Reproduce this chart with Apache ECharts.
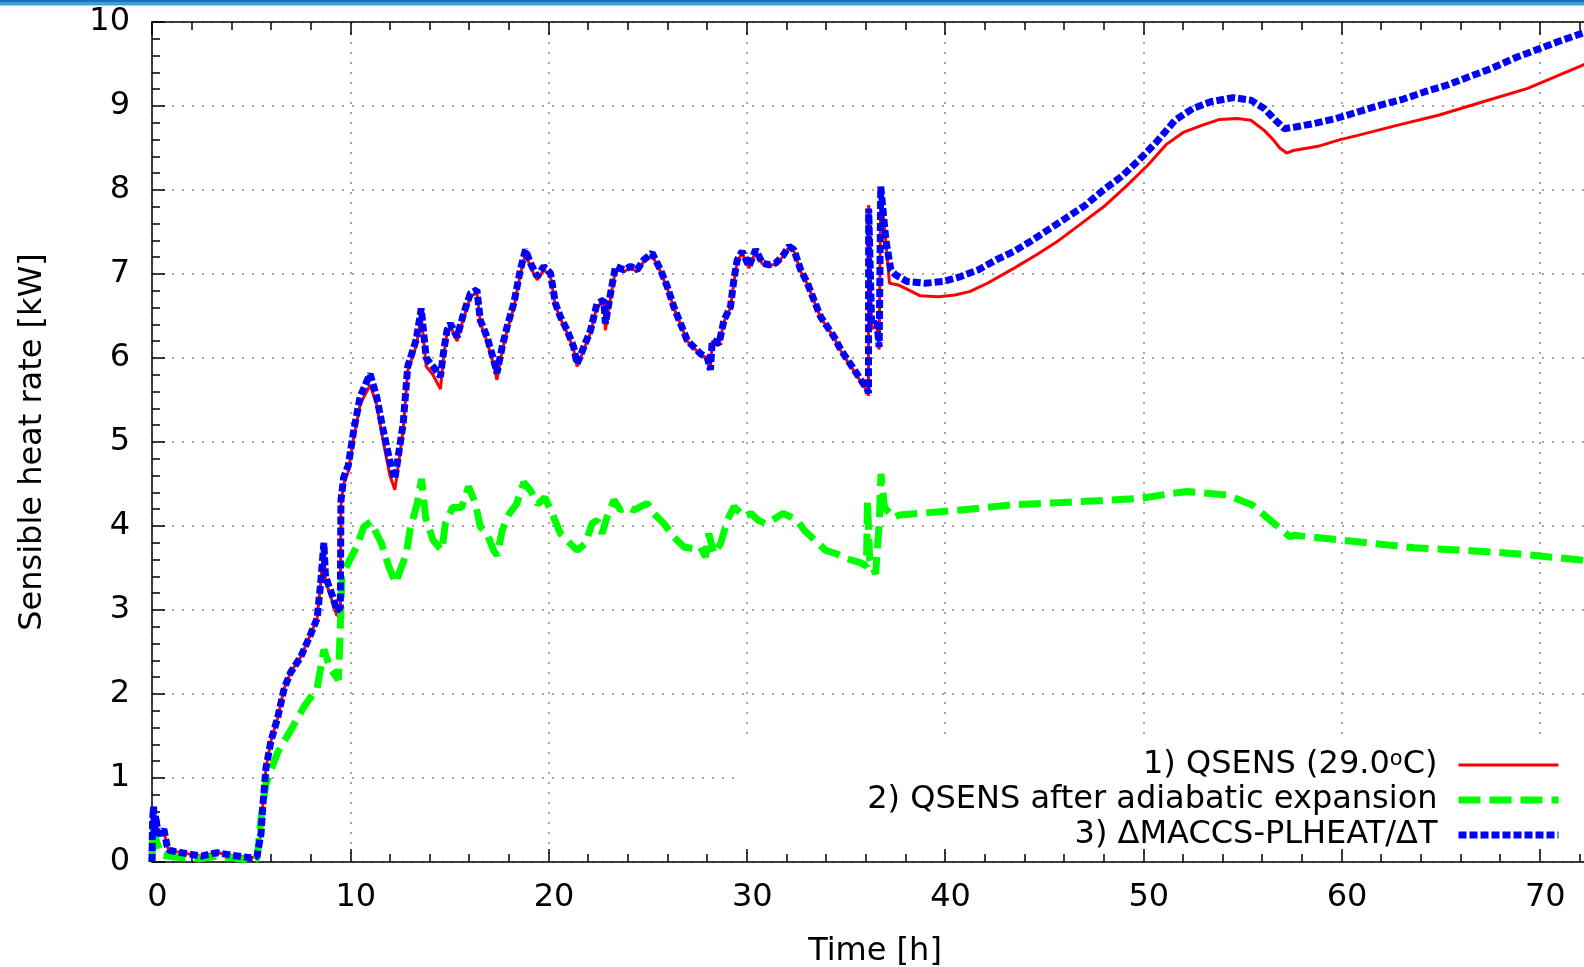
<!DOCTYPE html>
<html>
<head>
<meta charset="utf-8">
<script src="https://cdn.jsdelivr.net/npm/echarts@6/dist/echarts.min.js"></script>
<style>
  html, body { margin: 0; padding: 0; background: #fff; }
  #main { width: 1584px; height: 967px; }
</style>
</head>
<body>
<div id="main"></div>
<script>
// time [h], shared by curves 1 and 3 up to the spike near 37 h
var earlyT = [0, 0.03, 0.08, 0.12, 0.18, 0.3, 0.45, 0.6, 0.75, 0.85,
  1.5, 2.5, 3.0, 3.3, 4.0, 5.0, 5.3, 5.5, 5.6, 5.75,
  6.0, 6.33, 6.67, 7.0, 7.5, 8.0, 8.33, 8.5, 8.67, 8.75,
  9.1, 9.33, 9.5, 9.53, 9.67, 9.9, 10.17, 10.5, 10.83, 11.0,
  11.33, 11.67, 12.0, 12.25, 12.67, 12.9, 13.33, 13.58, 13.83, 14.17,
  14.55, 14.7, 14.88, 15.05, 15.39, 15.72, 16.06, 16.39, 16.56, 16.9,
  17.23, 17.4, 17.66, 17.91, 18.25, 18.58, 18.84, 19.09, 19.43, 19.76,
  20.1, 20.35, 20.6, 20.94, 21.27, 21.44, 21.78, 22.12, 22.45, 22.79,
  22.87, 23.13, 23.38, 23.8, 24.14, 24.47, 24.81, 25.23, 25.65, 25.99,
  26.32, 26.66, 27.0, 27.33, 27.67, 28.0, 28.17, 28.26, 28.6, 28.85,
  29.18, 29.35, 29.52, 29.77, 30.11, 30.45, 30.79, 31.12, 31.46, 31.8,
  32.13, 32.38, 32.72, 33.06, 33.39, 33.73, 34.07, 34.41, 34.74, 35.08,
  35.42, 35.75, 36.09, 36.14, 36.15, 36.3, 36.57, 36.68, 36.76, 37.02];

// 3) dMACCS-PLHEAT/dT  [kW]
var earlyBlue = [0, 0.5, 0.66, 0.3, 0.55, 0.35, 0.33, 0.39, 0.2, 0.14,
  0.11, 0.07, 0.1, 0.11, 0.08, 0.05, 0.07, 0.34, 0.7, 1.12,
  1.44, 1.71, 2.07, 2.26, 2.44, 2.71, 2.9, 3.3, 3.8, 3.4,
  3.17, 2.99, 3.03, 4.3, 4.58, 4.72, 5.13, 5.54, 5.72, 5.81,
  5.54, 5.13, 4.77, 4.56, 5.22, 5.9, 6.22, 6.59, 6.0, 5.9,
  5.78, 6.06, 6.33, 6.41, 6.25, 6.53, 6.77, 6.81, 6.45, 6.25,
  5.98, 5.82, 6.13, 6.37, 6.65, 7.05, 7.29, 7.13, 6.97, 7.09,
  7.01, 6.65, 6.49, 6.33, 6.13, 5.93, 6.13, 6.33, 6.65, 6.69,
  6.41, 6.77, 7.09, 7.05, 7.09, 7.05, 7.17, 7.25, 7.05, 6.85,
  6.61, 6.41, 6.21, 6.13, 6.05, 6.01, 5.86, 6.21, 6.17, 6.45,
  6.61, 6.93, 7.17, 7.27, 7.09, 7.29, 7.13, 7.11, 7.13, 7.21,
  7.33, 7.29, 7.05, 6.89, 6.69, 6.49, 6.37, 6.25, 6.10, 5.98,
  5.86, 5.74, 5.62, 5.58, 7.78, 6.4, 6.41, 6.13, 8.04, 7.40];

// 1) QSENS [kW]
var earlyRed = [0, 0.48, 0.62, 0.3, 0.5, 0.35, 0.33, 0.37, 0.2, 0.14,
  0.11, 0.07, 0.1, 0.11, 0.08, 0.05, 0.07, 0.34, 0.7, 1.12,
  1.44, 1.71, 2.07, 2.26, 2.44, 2.71, 2.9, 3.3, 3.75, 3.35,
  3.1, 2.93, 3.0, 4.25, 4.5, 4.65, 5.05, 5.45, 5.6, 5.68,
  5.45, 5.0, 4.6, 4.43, 5.15, 5.85, 6.15, 6.5, 5.9, 5.8,
  5.63, 6.0, 6.3, 6.38, 6.2, 6.48, 6.73, 6.78, 6.42, 6.2,
  5.92, 5.74, 6.08, 6.33, 6.6, 7.0, 7.25, 7.08, 6.93, 7.05,
  6.98, 6.62, 6.47, 6.3, 6.1, 5.9, 6.1, 6.3, 6.62, 6.66,
  6.33, 6.72, 7.05, 7.03, 7.07, 7.03, 7.15, 7.22, 7.03, 6.83,
  6.6, 6.4, 6.2, 6.12, 6.04, 6.0, 5.88, 6.2, 6.15, 6.43,
  6.6, 6.9, 7.15, 7.25, 7.07, 7.27, 7.12, 7.1, 7.12, 7.2,
  7.32, 7.27, 7.03, 6.88, 6.68, 6.48, 6.36, 6.24, 6.09, 5.96,
  5.84, 5.72, 5.6, 5.55, 7.82, 6.35, 6.38, 6.1, 8.0, 7.38];

var lateBlueT = [37.27, 37.5, 38.09, 38.99, 39.89, 40.79, 41.69, 42.59, 43.49, 44.39,
  45.29, 46.19, 47.09, 47.99, 48.9, 49.8, 50.7, 51.6, 52.5, 53.4,
  54.53, 55.43, 56.1, 56.67, 57.12, 57.68, 58.58, 59.71, 60.83, 61.96,
  63.09, 64.21, 65.34, 66.46, 67.59, 68.72, 69.84, 70.97, 72.3];
var lateBlue = [7.05, 6.99, 6.91, 6.89, 6.91, 6.97, 7.05, 7.17, 7.27, 7.40,
  7.54, 7.68, 7.82, 8.0, 8.16, 8.36, 8.58, 8.83, 8.97, 9.05,
  9.10, 9.07, 8.97, 8.83, 8.73, 8.75, 8.79, 8.85, 8.93, 9.01,
  9.08, 9.17, 9.25, 9.35, 9.45, 9.57, 9.67, 9.77, 9.88];

var lateRedT = [37.2, 37.64, 38.76, 39.66, 40.5, 41.24, 42.14, 43.49, 44.62, 45.74,
  46.87, 48.0, 49.12, 50.25, 51.15, 52.05, 52.95, 53.85, 54.75, 55.43,
  56.1, 56.55, 56.89, 57.23, 57.57, 58.81, 59.93, 60.83, 62.64, 64.89,
  67.14, 69.39, 72.3];
var lateRed = [6.89, 6.87, 6.74, 6.73, 6.75, 6.79, 6.89, 7.07, 7.23, 7.40,
  7.60, 7.80, 8.04, 8.30, 8.54, 8.69, 8.77, 8.84, 8.85, 8.83,
  8.71, 8.6, 8.5, 8.44, 8.47, 8.52, 8.6, 8.65, 8.76, 8.89,
  9.05, 9.21, 9.5];

// 2) QSENS after adiabatic expansion
var greenT = [0, 0.05, 0.15, 0.3, 0.5, 1.5, 2.5, 3.3, 4.0, 5.0,
  5.3, 5.5, 5.75, 6.33, 7.0, 7.67, 8.33, 8.67, 9.0, 9.4,
  9.5, 9.58, 9.96, 10.32, 10.68, 11.04, 11.58, 11.94, 12.29, 12.47,
  12.83, 13.01, 13.37, 13.6, 13.8, 14.18, 14.62, 14.8, 15.16, 15.61,
  15.97, 16.31, 16.56, 16.9, 17.23, 17.4, 17.67, 18.03, 18.39, 18.75,
  19.1, 19.46, 19.82, 20.18, 20.6, 21.1, 21.44, 21.86, 22.2, 22.45,
  22.7, 22.96, 23.3, 23.63, 23.97, 24.3, 24.64, 24.98, 25.31, 25.82,
  26.32, 26.83, 27.33, 27.67, 27.92, 28.09, 28.34, 28.68, 29.02, 29.36,
  29.86, 30.22, 30.57, 30.93, 31.29, 31.83, 32.19, 32.54, 32.9, 33.44,
  33.98, 34.52, 35.05, 35.77, 36.04, 36.09, 36.2, 36.5, 36.68, 36.77,
  36.95, 37.4, 37.7, 40.8, 43.3, 45.9, 48.4, 49.9, 51.5, 52.2,
  54.2, 55.5, 57.0, 57.4, 57.6, 60.1, 63.7, 66.3, 68.8, 72.3];
var greenV = [0, 0.39, 0.3, 0.2, 0.08, 0.05, 0.04, 0.07, 0.05, 0.02,
  0.04, 0.52, 0.93, 1.3, 1.57, 1.85, 2.07, 2.53, 2.3, 2.17,
  2.8, 3.4, 3.59, 3.75, 3.99, 4.05, 3.79, 3.52, 3.32, 3.44,
  3.67, 3.95, 4.26, 4.56, 4.1, 3.83, 3.71, 4.03, 4.22, 4.22,
  4.47, 4.27, 3.99, 3.91, 3.71, 3.65, 3.95, 4.15, 4.26, 4.52,
  4.42, 4.26, 4.34, 4.15, 3.91, 3.79, 3.71, 3.79, 4.03, 4.07,
  3.91, 4.11, 4.31, 4.19, 4.23, 4.19, 4.23, 4.27, 4.15, 4.03,
  3.87, 3.75, 3.73, 3.75, 3.63, 3.91, 3.67, 3.79, 4.07, 4.23,
  4.11, 4.15, 4.07, 4.03, 4.07, 4.15, 4.11, 4.07, 3.95, 3.83,
  3.71, 3.67, 3.61, 3.56, 3.52, 4.3, 3.6, 3.43, 4.03, 4.62,
  4.22, 4.1, 4.13, 4.19, 4.25, 4.28, 4.31, 4.33, 4.39, 4.41,
  4.37, 4.25, 3.95, 3.87, 3.89, 3.83, 3.74, 3.71, 3.67, 3.59];

var names = ['1) QSENS (29.0oC)', '2) QSENS after adiabatic expansion', '3) \u0394MACCS-PLHEAT/\u0394T'];

function pairs(t, v) {
  return t.map(function (x, i) { return [x, v[i]]; });
}

var redData = pairs(earlyT, earlyRed).concat(pairs(lateRedT, lateRed));
var blueData = pairs(earlyT, earlyBlue).concat(pairs(lateBlueT, lateBlue));
var greenData = pairs(greenT, greenV);

var FONT = 'DejaVu Sans';
var FS = 32;
var txt = { fontSize: FS, color: '#000', fontFamily: FONT };
var gridLine = { show: true, lineStyle: { color: '#888', width: 1.5, type: [2, 8] } };
var blackLine = { color: '#000', width: 1.5 };

var redStyle = { color: '#ff0000', width: 3 };
var greenStyle = { color: '#00ff00', width: 7, type: [22, 9] };
var blueStyle = { color: '#0000ff', width: 7, type: [8, 3] };

var myChart = echarts.init(document.getElementById('main'));

var option = {
  animation: false,
  backgroundColor: '#fff',
  // the plot runs on past the right edge of the picture (x up to 80 h)
  grid: { left: 152, top: 22, width: 1586, bottom: 105, containLabel: false, outerBoundsMode: 'none' },
  graphic: [
    // white key box hides the grid behind the legend
    { type: 'rect', z: 1, shape: { x: 734, y: 737, width: 860, height: 112 }, style: { fill: '#fff' } },
    // window title bar strip at the very top
    { type: 'rect', z: 10, shape: { x: 0, y: 0, width: 1584, height: 2 }, style: { fill: '#1f6fb5' } },
    { type: 'rect', z: 10, shape: { x: 0, y: 2, width: 1584, height: 3 }, style: { fill: '#3a9ee4' } },
    { type: 'rect', z: 10, shape: { x: 0, y: 5, width: 1584, height: 1 }, style: { fill: '#a8d4f3' } }
  ],
  legend: {
    orient: 'vertical',
    right: 17,
    top: 744,
    align: 'right',
    selectedMode: false,
    itemWidth: 100,
    itemHeight: 14,
    itemGap: 3,
    itemStyle: { opacity: 0 },
    formatter: function (name) {
      return name.replace('0oC', '0{sup|o}C');
    },
    textStyle: {
      fontSize: FS, color: '#000', fontFamily: FONT, padding: [0, 16, 0, 0],
      rich: {
        sup: { fontSize: 21, fontFamily: FONT, color: '#000', verticalAlign: 'top', padding: [0, 0, 10, 0] }
      }
    },
    data: [
      { name: names[0], lineStyle: redStyle },
      { name: names[1], lineStyle: greenStyle },
      { name: names[2], lineStyle: blueStyle }
    ]
  },
  xAxis: [{
    type: 'value', min: 0, max: 80, interval: 10, position: 'bottom',
    name: 'Time [h]', nameLocation: 'middle', nameGap: 74,
    nameTextStyle: { fontSize: FS, color: '#000', fontFamily: FONT, padding: [0, 140, 0, 0] },
    axisLine: { show: true, onZero: false, lineStyle: blackLine },
    axisTick: { show: true, inside: true, length: 13, lineStyle: blackLine },
    minorTick: { show: true, splitNumber: 5, length: 8, lineStyle: blackLine },
    axisLabel: Object.assign({ margin: 20, padding: [0, 0, 0, 11] }, txt),
    splitLine: gridLine
  }, {
    type: 'value', min: 0, max: 80, interval: 10, position: 'top',
    axisLine: { show: true, onZero: false, lineStyle: blackLine },
    axisTick: { show: true, inside: true, length: 13, lineStyle: blackLine },
    minorTick: { show: true, splitNumber: 5, length: 8, lineStyle: blackLine },
    axisLabel: { show: false },
    splitLine: { show: false }
  }],
  yAxis: {
    type: 'value', min: 0, max: 10, interval: 1,
    name: 'Sensible heat rate [kW]', nameLocation: 'middle', nameGap: 103,
    nameTextStyle: { fontSize: FS, color: '#000', fontFamily: FONT },
    axisLine: { show: true, onZero: false, lineStyle: blackLine },
    axisTick: { show: true, inside: true, length: 13, lineStyle: blackLine },
    minorTick: { show: true, splitNumber: 5, length: 8, lineStyle: blackLine },
    axisLabel: Object.assign({ margin: 22 }, txt),
    splitLine: gridLine
  },
  series: [
    {
      name: names[0], type: 'line', data: redData, symbol: 'none', silent: true, z: 2,
      lineStyle: redStyle, itemStyle: { color: '#ff0000' },
      emphasis: { disabled: true }
    },
    {
      name: names[1], type: 'line', data: greenData, symbol: 'none', silent: true, z: 3,
      lineStyle: greenStyle, itemStyle: { color: '#00ff00' },
      emphasis: { disabled: true }
    },
    {
      name: names[2], type: 'line', data: blueData, symbol: 'none', silent: true, z: 4,
      lineStyle: blueStyle, itemStyle: { color: '#0000ff' },
      emphasis: { disabled: true }
    }
  ]
};

myChart.setOption(option);
</script>
</body>
</html>
